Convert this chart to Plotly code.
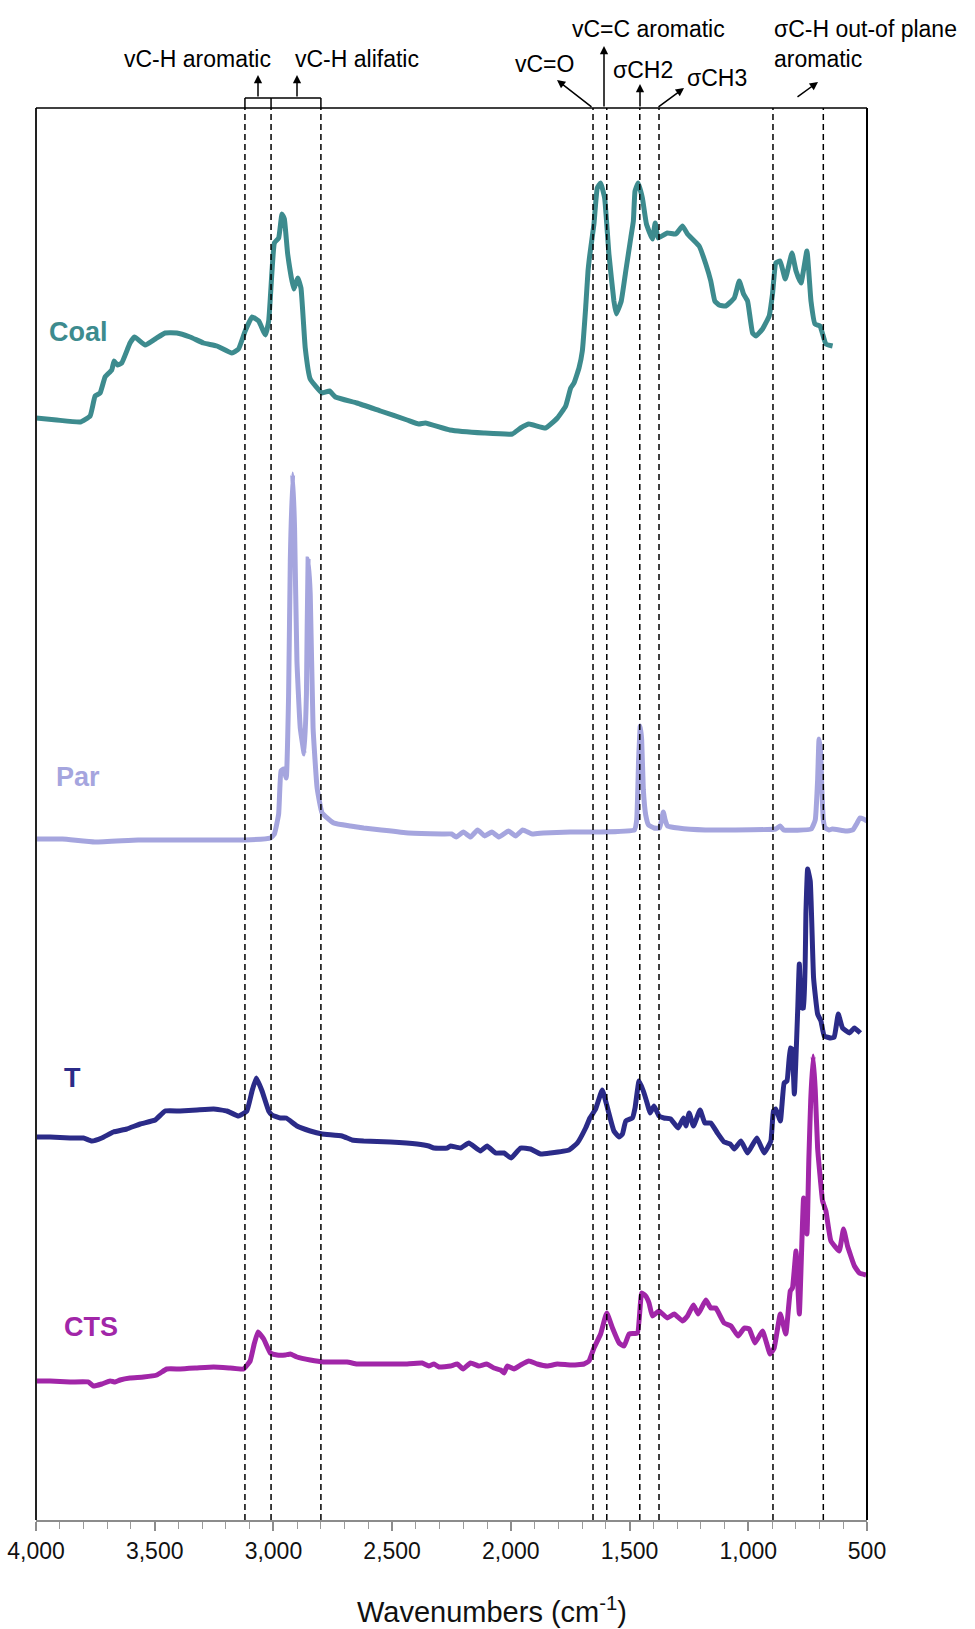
import plotly.graph_objects as go

# ---- FTIR spectra (stacked, absorbance in arbitrary units) ----
coal_wn = [4000, 3913, 3814, 3772, 3751, 3730, 3709, 3681, 3671, 3657, 3639, 3604, 3585, 3540, 3498,
           3456, 3407, 3351, 3294, 3238, 3175, 3147, 3119, 3090, 3062, 3034, 3020, 3006, 2996, 2978,
           2964, 2954, 2940, 2915, 2897, 2884, 2866, 2845, 2795, 2764, 2739, 2648, 2549, 2437, 2388,
           2360, 2257, 2114, 1994, 1959, 1924, 1854, 1804, 1769, 1748, 1734, 1713, 1699, 1685, 1675,
           1667, 1650, 1636, 1622, 1605, 1587, 1566, 1556, 1535, 1516, 1495, 1484, 1477, 1464, 1446,
           1429, 1404, 1392, 1380, 1341, 1305, 1277, 1256, 1207, 1179, 1158, 1141, 1123, 1095, 1059,
           1038, 1020, 1003, 982, 968, 940, 912, 898, 884, 866, 844, 816, 799, 778, 753, 736, 719,
           698, 673, 645]
coal_ab = [1102, 1100, 1098, 1104, 1124, 1127, 1143, 1150, 1159, 1155, 1157, 1177, 1183, 1175, 1181,
           1187, 1187, 1183, 1177, 1174, 1167, 1171, 1189, 1203, 1199, 1185, 1199, 1249, 1277, 1282,
           1306, 1301, 1266, 1231, 1242, 1232, 1172, 1141, 1127, 1129, 1123, 1117, 1109, 1100, 1096,
           1097, 1090, 1087, 1086, 1092, 1096, 1092, 1102, 1114, 1132, 1137, 1152, 1169, 1212, 1249,
           1266, 1296, 1332, 1337, 1322, 1266, 1219, 1206, 1219, 1249, 1282, 1299, 1329, 1337, 1322,
           1296, 1281, 1297, 1282, 1287, 1286, 1294, 1286, 1274, 1256, 1239, 1219, 1215, 1214, 1222,
           1239, 1226, 1219, 1187, 1184, 1191, 1204, 1226, 1257, 1259, 1241, 1267, 1249, 1237, 1269,
           1219, 1196, 1194, 1176, 1174]

par_wn = [4000, 3889, 3752, 3570, 3343, 3120, 3013, 2996, 2978, 2968, 2957, 2946, 2936, 2929, 2919,
          2911, 2901, 2887, 2870, 2861, 2854, 2845, 2833, 2816, 2795, 2746, 2676, 2620, 2546, 2432,
          2290, 2250, 2230, 2200, 2170, 2140, 2110, 2080, 2050, 2010, 1980, 1950, 1910, 1863, 1750,
          1636, 1480, 1470, 1462, 1455, 1449, 1442,
          1432, 1420, 1397, 1374, 1365, 1358, 1350, 1340, 1295, 1181, 1067, 885, 866, 851, 735, 718,
          708, 702, 696, 690, 684, 676, 660, 646, 589, 560, 544, 530, 515, 500]
par_ab = [681, 681, 678, 680, 680, 680, 682, 686, 706, 749, 751, 742, 826, 959, 1046,
          992, 859, 792, 766, 826, 961, 926, 792, 732, 707, 697, 694, 692, 690, 687,
          686, 686, 683, 688, 683, 690, 684, 688, 683, 689, 684, 690, 686, 687, 688,
          688, 690, 700, 760, 794, 780, 730,
          705, 695, 692, 692, 700, 708, 700, 694, 692, 690, 690, 691, 694, 690, 691, 700,
          740, 781, 770, 730, 700, 692, 690, 691, 689, 690, 696, 702, 701, 699]

t_wn = [4000, 3941, 3857, 3800, 3765, 3723, 3674, 3618, 3561, 3498, 3456, 3393, 3322, 3252, 3196,
        3147, 3112, 3090, 3072, 3048, 3020, 3006, 2971, 2946, 2901, 2845, 2795, 2711, 2669, 2620,
        2507, 2395, 2346, 2324, 2268, 2254, 2212, 2177, 2128, 2100, 2064, 2029, 1999, 1959, 1917,
        1875, 1833, 1755, 1720, 1685, 1667, 1643, 1615, 1593, 1566, 1544, 1530, 1516, 1488, 1477,
        1460, 1442, 1425, 1414, 1397, 1376, 1355, 1327, 1296, 1273, 1263, 1249, 1231, 1203, 1183,
        1158, 1130, 1102, 1076, 1059, 1031, 1003, 964, 933, 905, 894, 884, 865, 849, 837, 823, 816,
        806, 792, 785, 775, 767, 757, 750, 739, 725, 708, 694, 680, 652, 638, 621, 603, 574, 553, 528]
t_ab = [383, 383, 382, 382, 379, 382, 388, 391, 396, 400, 409, 409, 410, 411, 409,
        404, 409, 429, 442, 429, 409, 405, 402, 402, 394, 389, 386, 384, 380, 379,
        378, 376, 374, 372, 372, 374, 372, 377, 369, 374, 367, 367, 362, 372, 371,
        366, 367, 370, 377, 392, 402, 411, 430, 412, 389, 383, 386, 399, 402, 412,
        439, 429, 416, 407, 414, 404, 402, 401, 392, 402, 394, 407, 394, 410, 397,
        397, 387, 378, 376, 371, 379, 367, 382, 367, 379, 409, 411, 399, 437, 439, 472, 471,
        426, 509, 556, 512, 512, 609, 651, 639, 542, 506, 499, 484, 482, 483, 506, 492, 487, 492, 487]

cts_wn = [4000, 3941, 3857, 3779, 3758, 3723, 3688, 3667, 3646, 3604, 3547, 3491, 3449, 3393, 3322,
          3252, 3182, 3126, 3098, 3081, 3065, 3041, 3013, 2985, 2950, 2929, 2901, 2845, 2788, 2690,
          2648, 2549, 2451, 2374, 2346, 2324, 2303, 2254, 2226, 2201, 2170, 2135, 2102, 2071, 2043,
          2029, 2015, 1987, 1959, 1924, 1889, 1847, 1804, 1748, 1692, 1671, 1650, 1622, 1596, 1572,
          1544, 1523, 1502, 1467, 1449, 1432, 1418, 1404, 1376, 1341, 1312, 1277, 1256, 1231, 1211,
          1179, 1158, 1137, 1102, 1073, 1043, 1017, 996, 972, 940, 908, 891, 865, 842, 823, 814,
          799, 785, 767, 753, 745, 737, 727, 718, 708, 700, 687, 673, 652, 617, 599, 582, 553, 532, 504]
cts_ab = [139, 139, 138, 138, 134, 136, 139, 138, 140, 142, 143, 145, 151, 151, 152,
          153, 152, 151, 159, 176, 188, 181, 167, 165, 165, 166, 163, 160, 158, 158,
          156, 156, 156, 157, 154, 156, 153, 154, 156, 151, 157, 154, 156, 152, 150,
          147, 154, 151, 155, 159, 156, 154, 156, 155, 156, 159, 172, 186, 207, 192,
          177, 174, 186, 187, 227, 224, 217, 204, 209, 202, 206, 199, 204, 215, 206,
          220, 212, 212, 197, 194, 184, 192, 191, 177, 189, 166, 172, 206, 186, 229, 232,
          269, 206, 322, 286, 360, 420, 464, 430, 372, 350, 319, 309, 279, 269, 291, 274, 254, 247, 245]

series_names = ["Coal", "Par", "T", "CTS"]
series_colors = ["#3d8b8e", "#a5a5de", "#2b2b88", "#a126a8"]

# band positions marked with dashed guide lines (cm-1)
band_lines = [3120, 3010, 2800, 1654, 1596, 1457, 1376, 896, 684]

tick_vals = [4000, 3500, 3000, 2500, 2000, 1500, 1000, 500]
tick_text = ["4,000", "3,500", "3,000", "2,500", "2,000", "1,500", "1,000", "500"]

# ---- page geometry (pixels) ----
W, H = 975, 1629
ML, MR, MT, MB = 36, 108, 108, 109
PW, PH = W - ML - MR, H - MT - MB
FONT = "Liberation Sans, Arial, Helvetica, sans-serif"


def xp(px):
    return (px - ML) / PW


def yp(py):
    return (H - MB - py) / PH


fig = go.Figure()
for wn, ab, name, col in zip([coal_wn, par_wn, t_wn, cts_wn],
                             [coal_ab, par_ab, t_ab, cts_ab],
                             series_names, series_colors):
    fig.add_trace(go.Scatter(x=wn, y=ab, mode="lines", name=name,
                             line=dict(color=col, width=5, shape="spline", smoothing=0.35),
                             hoverinfo="x+name"))

shapes = []
# dashed band markers
for b in band_lines:
    shapes.append(dict(type="line", xref="x", yref="paper", x0=b, x1=b, y0=0, y1=1,
                       line=dict(color="black", width=1.5, dash="6px,4px")))
# plot frame (left, top, right)
shapes.append(dict(type="line", xref="paper", yref="paper", x0=0, x1=0, y0=0, y1=1,
                   line=dict(color="#222", width=2)))
shapes.append(dict(type="line", xref="paper", yref="paper", x0=0, x1=1, y0=1, y1=1,
                   line=dict(color="black", width=1.5)))
shapes.append(dict(type="line", xref="paper", yref="paper", x0=1, x1=1, y0=0, y1=1,
                   line=dict(color="black", width=2)))
# brackets grouping the C-H stretching bands
yb = yp(98)
for x0, x1 in [(band_lines[0], band_lines[1]), (band_lines[1], band_lines[2])]:
    shapes.append(dict(type="line", xref="x", yref="paper", x0=x0, x1=x1, y0=yb, y1=yb,
                       line=dict(color="black", width=1.5)))
for xb in band_lines[:3]:
    shapes.append(dict(type="line", xref="x", yref="paper", x0=xb, x1=xb, y0=yb, y1=1,
                       line=dict(color="black", width=1.5)))

annotations = []


def text(s, x, y, size=23, color="black", bold=False, xanchor="center", align="center"):
    if bold:
        s = "<b>" + s + "</b>"
    annotations.append(dict(text=s, x=xp(x), y=yp(y), xref="paper", yref="paper",
                            showarrow=False, xanchor=xanchor, yanchor="middle", align=align,
                            font=dict(family=FONT, size=size, color=color)))


def arrow(hx, hy, tx, ty):
    annotations.append(dict(text="", x=xp(hx), y=yp(hy), xref="paper", yref="paper",
                            ax=tx - hx, ay=ty - hy, showarrow=True, arrowhead=2,
                            arrowsize=1.1, arrowwidth=1.5, arrowcolor="black"))


# band assignments
text("vC-H aromatic", 197, 59)
text("vC-H alifatic", 357, 59)
text("vC=C aromatic", 648, 29)
text("vC=O", 544, 64)
text("σCH2", 643, 70)
text("σCH3", 717, 78)
text("σC-H out-of plane<br>aromatic", 772, 44, xanchor="left", align="left")

arrow(258, 75, 258, 98)
arrow(297, 75, 297, 98)
arrow(557, 80, 593, 108)
arrow(604, 46, 604, 108)
arrow(640, 84, 640, 108)
arrow(684, 88, 657, 108)
arrow(818, 82, 796, 98)

# spectrum labels
for name, col, (lx, ly) in zip(series_names, series_colors,
                               [(78, 332), (78, 777), (72, 1078), (91, 1327)]):
    text(name, lx, ly, size=27, color=col, bold=True)

# axis title
text("Wavenumbers (cm<sup>-1</sup>)", 492, 1610, size=29, color="#111")

fig.update_layout(
    width=W, height=H,
    margin=dict(l=ML, r=MR, t=MT, b=MB, pad=0, autoexpand=False),
    paper_bgcolor="white", plot_bgcolor="white",
    showlegend=False,
    shapes=shapes, annotations=annotations,
    xaxis=dict(range=[4000, 500], tickvals=tick_vals, ticktext=tick_text, automargin=False,
               showgrid=False, zeroline=False, showline=True, linecolor="#8c8c8c", linewidth=1.5,
               ticks="outside", ticklen=9, tickwidth=1.5, tickcolor="#8c8c8c",
               minor=dict(dtick=100, tick0=500, ticks="outside", ticklen=7, tickwidth=1.2,
                          tickcolor="#9a9a9a", showgrid=False),
               tickfont=dict(family=FONT, size=23, color="#111"), ticklabelstandoff=1),
    yaxis=dict(range=[0, PH], visible=False, showgrid=False, zeroline=False, fixedrange=True,
               automargin=False),
)

fig.write_html("out.html")
